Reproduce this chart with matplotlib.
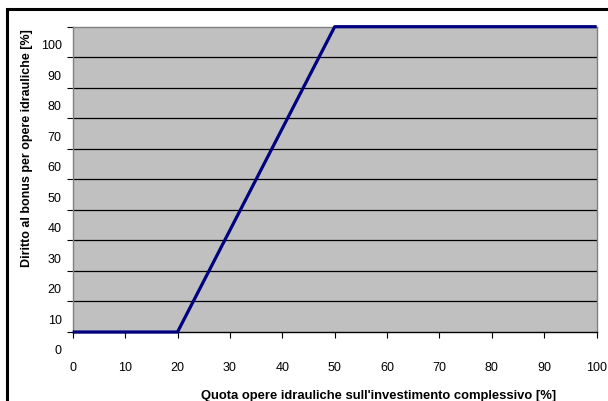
import matplotlib
matplotlib.use('Agg')
import matplotlib.pyplot as plt
from matplotlib.patches import Rectangle
from matplotlib.transforms import ScaledTranslation

# data: quota opere idrauliche (%) vs diritto al bonus (%)
quota = [0, 20, 50, 100]
bonus = [0, 0, 100, 100]
x_ticks = list(range(0, 101, 10))
y_ticks = list(range(0, 101, 10))

plt.rcParams['font.family'] = ['Liberation Sans', 'DejaVu Sans']

fig = plt.figure(figsize=(6.08, 4.02), dpi=100)
ax = fig.add_axes([0.1196, 0.1716, 0.8618, 0.7595])
ax.set_facecolor('#C0C0C0')

# horizontal gridlines
for v in y_ticks[1:-1]:
    ax.axhline(v, color='black', lw=0.9, zorder=1)

ax.plot(quota, bonus, color='#000080', lw=2.3, zorder=3, clip_on=False,
        solid_capstyle='butt')

ax.set_xlim(0, 100)
ax.set_ylim(0, 100)
ax.set_xticks(x_ticks)
ax.set_yticks(y_ticks)
ax.tick_params(axis='x', direction='out', length=4, width=0.8, pad=17, labelsize=9)
ax.tick_params(axis='y', direction='out', length=4, width=0.8, pad=4, labelsize=9)

# Excel-style: y labels sit half an interval below their gridline
for lab in ax.get_yticklabels():
    lab.set_transform(lab.get_transform() + ScaledTranslation(0, -0.168, fig.dpi_scale_trans))

for side in ['top', 'right', 'left']:
    ax.spines[side].set_color('#808080')
    ax.spines[side].set_linewidth(1.0)
ax.spines['bottom'].set_color('black')
ax.spines['bottom'].set_linewidth(1.0)

ax.set_xlabel("Quota opere idrauliche sull'investimento complessivo [%]",
              fontsize=9.4, fontweight='bold')
ax.xaxis.set_label_coords(0.584, -0.185)
ax.set_ylabel('Diritto al bonus per opere idrauliche [%]',
              fontsize=9, fontweight='bold')
ax.yaxis.set_label_coords(-0.076, 0.606)

# outer chart border (top and left visible)
fig.patches.append(Rectangle((7 / 608, -0.2), 1.2, (402 - 9.5) / 402 + 0.2,
                             transform=fig.transFigure, fill=False,
                             edgecolor='black', lw=2.2))

fig.savefig('out.png', dpi=100, facecolor='white')
